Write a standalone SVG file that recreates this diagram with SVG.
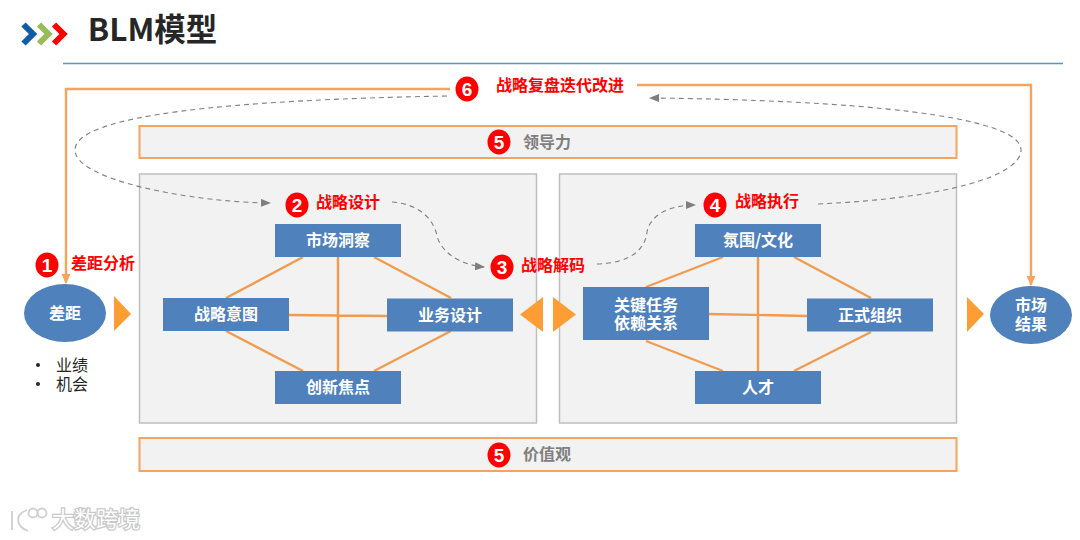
<svg xmlns="http://www.w3.org/2000/svg" width="1080" height="540" viewBox="0 0 1080 540">
<style>
text{font-family:"Noto Sans CJK SC","Liberation Sans",sans-serif;text-anchor:middle}
.box{fill:#4f81bd}
.panel{fill:#f2f2f2;stroke:#bfbfbf;stroke-width:1.5}
.band{fill:#f2f2f2;stroke:#f4a460;stroke-width:2}
.w{fill:#fff;font-size:16px;font-weight:700}
.r{fill:#f00;font-size:16px;font-weight:700}
.g{fill:#7f7f7f;font-size:16px;font-weight:700}
.n{fill:#fff;font-family:"Liberation Sans",sans-serif;font-size:19px;font-weight:700}
.bad{fill:#f00}
.o{fill:none;stroke:#f4a460;stroke-width:2.4}
.l{stroke:#f09c50;stroke-width:2.4;fill:none}
.d{fill:none;stroke:#7f7f7f;stroke-width:1.1;stroke-dasharray:5 4}
.t{fill:#fd9d33}
</style>
<defs>
<marker id="ga" markerWidth="11" markerHeight="10" refX="9" refY="4" orient="auto" markerUnits="userSpaceOnUse"><path d="M0 0L10 4L0 8Z" fill="#7f7f7f"/></marker>
<marker id="oa" markerWidth="12" markerHeight="10" refX="9" refY="4.5" orient="auto" markerUnits="userSpaceOnUse"><path d="M0 0L10 4.500L0 9Z" fill="#f4a460"/></marker>
</defs>
<rect width="1080" height="540" fill="#fff"/>
<g id="logo" fill="none" stroke-width="6">
<path d="M23.500 24.500L33 34L23.500 43.500" stroke="#0f5ca8"/>
<path d="M39 24.500L48.500 34L39 43.500" stroke="#9bbb59"/>
<path d="M54 24.500L63.500 34L54 43.500" stroke="#f00"/>
</g>
<text id="title" x="152.500" y="41" style="font-size:31.500px;font-weight:700" fill="#262626">BLM模型</text>
<line x1="63" y1="63.500" x2="1063" y2="63.500" stroke="#5b93c4" stroke-width="1.300"/>

<g id="panels">
<rect class="panel" x="139.500" y="174" width="397" height="249"/>
<rect class="panel" x="559.500" y="174" width="397" height="249"/>
</g>
<g id="band-leadership"><rect class="band" x="139.500" y="126" width="817" height="32"/><ellipse class="bad" cx="499" cy="142" rx="11.500" ry="12.500"/><text class="n" x="499" y="148.500">5</text><text class="g" x="547" y="147.500">领导力</text></g>
<g id="band-values"><rect class="band" x="139.500" y="438" width="817" height="33"/><ellipse class="bad" cx="499" cy="455" rx="11.500" ry="12.500"/><text class="n" x="499" y="461.500">5</text><text class="g" x="547" y="460">价值观</text></g>

<g id="connectors">
<path class="l" d="M226 298L303 257M226 331L303 371M374 257L451 298M374 371L451 331M289 315L388 316M338 257V371"/>
<path class="l" d="M646 287L723 257M646 341L723 371M794 257L871 298M794 371L871 332M709 314L808 316M758 257V371"/>
<path class="o" d="M450 89H66V283" marker-end="url(#oa)"/>
<path class="o" d="M637 85H1031V285" marker-end="url(#oa)"/>
<path class="d" d="M447 96C230 100 75 115 75 150C75 180 190 202 270 203" marker-end="url(#ga)"/>
<path class="d" d="M392 202C420 204 434 220 437 236C441 252 460 265 484 267" marker-end="url(#ga)"/>
<path class="d" d="M597 264C630 263 645 250 647 232C650 215 670 205 695 205" marker-end="url(#ga)"/>
<path class="d" d="M818 204C950 198 1021 175 1021 150C1021 115 850 100 650 98" marker-end="url(#ga)"/>
</g>

<g id="step6"><ellipse class="bad" cx="467" cy="89" rx="11.500" ry="12.500"/><text class="n" x="467" y="95.500">6</text><text class="r" x="560" y="91">战略复盘迭代改进</text></g>
<g id="step1"><ellipse class="bad" cx="47" cy="265" rx="11.500" ry="12.500"/><text class="n" x="47" y="271.500">1</text><text class="r" x="103" y="269">差距分析</text></g>
<g id="step2"><ellipse class="bad" cx="297" cy="205" rx="11.500" ry="12.500"/><text class="n" x="297" y="211.500">2</text><text class="r" x="348" y="208">战略设计</text></g>
<g id="step3"><ellipse class="bad" cx="502" cy="267" rx="11.500" ry="12.500"/><text class="n" x="502" y="273.500">3</text><text class="r" x="553" y="271">战略解码</text></g>
<g id="step4"><ellipse class="bad" cx="715" cy="205" rx="11.500" ry="12.500"/><text class="n" x="715" y="211.500">4</text><text class="r" x="767" y="207">战略执行</text></g>

<g id="gap"><ellipse class="box" cx="65" cy="313" rx="41" ry="29"/><text class="w" x="65" y="318.500">差距</text></g>
<g id="gap-list" fill="#262626">
<circle cx="38" cy="365" r="2"/><circle cx="38" cy="384" r="2"/>
<text fill="#262626" style="font-size:16px"><tspan x="72" y="371">业绩</tspan><tspan x="72" y="389.500">机会</tspan></text>
</g>
<g id="market-result"><ellipse class="box" cx="1031" cy="315" rx="41" ry="29"/><text class="w"><tspan x="1031" y="311">市场</tspan><tspan x="1031" y="330">结果</tspan></text></g>

<g id="flow-arrows">
<path class="t" d="M114 296L131 314L114 331Z"/>
<path class="t" d="M543 297V332L520 314.500Z"/>
<path class="t" d="M553 297V332L576 314.500Z"/>
<path class="t" d="M967 297L984 314L967 332Z"/>
</g>

<g id="n-market"><rect class="box" x="275" y="224" width="126" height="33"/><text class="w" x="338" y="246">市场洞察</text></g>
<g id="n-intent"><rect class="box" x="163" y="298" width="126" height="33"/><text class="w" x="226" y="320">战略意图</text></g>
<g id="n-business"><rect class="box" x="387" y="298.500" width="126" height="33"/><text class="w" x="450" y="321">业务设计</text></g>
<g id="n-innovation"><rect class="box" x="275" y="371" width="126" height="33"/><text class="w" x="338" y="392.500">创新焦点</text></g>
<g id="n-culture"><rect class="box" x="695" y="224" width="126" height="33"/><text class="w" x="758" y="246">氛围/文化</text></g>
<g id="n-tasks"><rect class="box" x="583" y="287" width="126" height="53"/><text class="w"><tspan x="646" y="311">关键任务</tspan><tspan x="646" y="329">依赖关系</tspan></text></g>
<g id="n-org"><rect class="box" x="807" y="298.500" width="126" height="33"/><text class="w" x="870" y="321">正式组织</text></g>
<g id="n-talent"><rect class="box" x="695" y="371" width="126" height="33"/><text class="w" x="758" y="393">人才</text></g>

<g id="watermark" fill="none" stroke="#cfcfcf" stroke-width="1.800">
<path d="M12 511V530M27 510C15 514 15 526 28 531"/>
<circle cx="33" cy="513" r="4.500"/><circle cx="42" cy="513" r="4.500"/>
</g>
<text x="96" y="527" style="font-size:22px;font-weight:400;paint-order:stroke;stroke:#c8c8c8;stroke-width:2.500" fill="#fff">大数跨境</text>
</svg>
